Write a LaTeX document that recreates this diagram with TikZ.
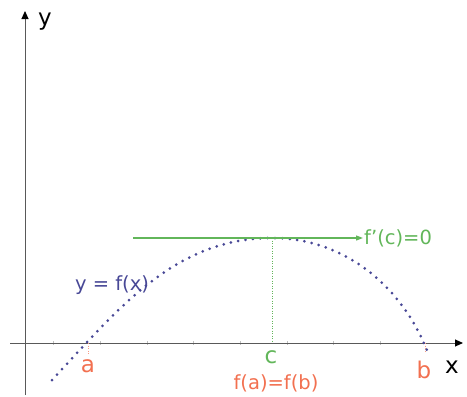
\documentclass[tikz,border=0pt]{standalone}
\usepackage{fontspec}
\setmainfont{DejaVu Sans}
\usetikzlibrary{arrows.meta}
\definecolor{curveblue}{RGB}{72,72,150}
\definecolor{tangreen}{RGB}{98,182,90}
\definecolor{ptorange}{RGB}{242,112,80}

\begin{document}
\begin{tikzpicture}[x=1pt,y=-1pt,
    axis/.style={draw=black!65, line width=1pt, -{Triangle[length=8pt,width=7pt,color=black]}},
    curve/.style={curveblue, line width=3pt, line cap=round, dash pattern=on 0pt off 7.4pt},
    lbl/.style={inner sep=1pt, font=\fontsize{19.5}{19.5}\selectfont},
    big/.style={inner sep=0pt, font=\fontsize{23}{23}\selectfont}]
    \useasboundingbox (0,0) rectangle (467,397);
    % axes
    \coordinate (xs) at (10,343);
    \coordinate (xe) at (463,343);
    \coordinate (ys) at (25,395);
    \coordinate (ye) at (25,11);
    \foreach \t in {53,100,147,193,240,287,333,380}
      \draw[black!25, line width=0.6pt] (\t,341) -- (\t,345);
    \draw[axis] (xs) -- (xe);
    \draw[axis] (ys) -- (ye);
    \node[big] (ylab) at (45,22) {y};
    \node[big] (xlab) at (452,367) {x};
    % points on the x axis
    \coordinate (A) at (88,343);
    \coordinate (B) at (425,343);
    \coordinate (C) at (272,343);
    \coordinate (V) at (272,238);
    % the curve
    \draw[curve] (52,380) to[out=47,in=180,looseness=0.95] (V)
                 to[out=0,in=111,looseness=0.95] (428,353);
    \node[lbl, text=curveblue] (flab) at (112,285) {y = f(x)};
    % tangent at c
    \coordinate (ts) at (133,238);
    \node[lbl, text=tangreen, anchor=west] (dlab) at (363,238) {f’(c)=0};
    \draw[tangreen, line width=1.2pt, -{Triangle[length=7pt,width=5pt]}] (ts) -- (dlab.west);
    \draw[tangreen, line width=1pt, dash pattern=on 1pt off 1.5pt] (V) -- (C);
    \node[big, text=tangreen] (clab) at (271,357) {c};
    % a and b
    \draw[ptorange!70, line width=0.9pt, dash pattern=on 1pt off 1.5pt] (A) -- ++(0,12);
    \draw[ptorange!70, line width=0.9pt, dash pattern=on 1pt off 1.5pt] (B) -- ++(0,10);
    \node[big, text=ptorange] (alab) at (88,366) {a};
    \node[big, text=ptorange] (blab) at (424,370) {b};
    \node[lbl, text=ptorange] (eqlab) at (276,383) {f(a)=f(b)};
\end{tikzpicture}
\end{document}
